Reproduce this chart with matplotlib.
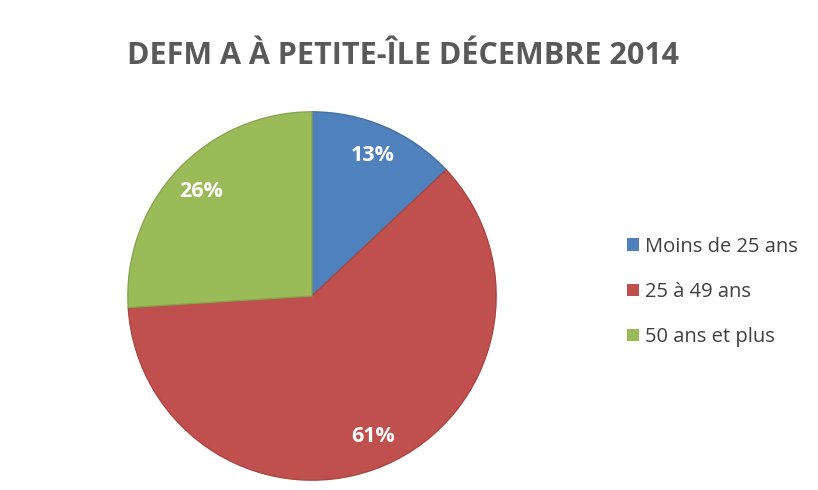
import numpy as np
import matplotlib.pyplot as plt

# données du graphique
categories = ["Moins de 25 ans", "25 à 49 ans", "50 ans et plus"]
valeurs = [13, 61, 26]
couleurs = ["#4F81BD", "#C0504D", "#9BBB59"]
bordures = ["#45719F", "#A84643", "#88A44E"]
titre = "DEFM A À PETITE-ÎLE DÉCEMBRE 2014"

fig = plt.figure(figsize=(8.18, 4.90), dpi=100)
fig.patch.set_facecolor("white")

# position du camembert (centre ~ (312, 296) px, rayon ~ 186 px)
W, H = 818, 490
cx, cy, r = 312, 490 - 296, 186
ax = fig.add_axes([(cx - r) / W, (cy - r) / H, 2 * r / W, 2 * r / H])

wedges, texts, autotexts = ax.pie(
    valeurs, colors=couleurs, startangle=90, counterclock=False,
    autopct="%1.0f%%", pctdistance=0.83, radius=1.0,
    wedgeprops=dict(linewidth=1.0),
    textprops=dict(color="white", fontsize=15.5, fontweight="bold",
                   family="Open Sans"))
for w, b in zip(wedges, bordures):
    w.set_edgecolor(b)
ax.set_xlim(-1.01, 1.01)
ax.set_ylim(-1.01, 1.01)
ax.set_aspect("equal")

# titre
fig.text(403 / W, 1 - 56 / H, titre, ha="center", va="center",
         fontsize=22, fontweight="bold", color="#595959", family="Open Sans")

# légende
leg = fig.legend(wedges, categories, loc="center left",
                 bbox_to_anchor=(609 / W, 1 - 292 / H),
                 frameon=False, handlelength=0.6, handleheight=0.6,
                 handletextpad=0.3, labelspacing=1.25, labelcolor="#404040",
                 prop=dict(family="Open Sans", size=14.5))
for h in leg.legend_handles:
    h.set_edgecolor("none")

plt.savefig("out.png", dpi=100)
